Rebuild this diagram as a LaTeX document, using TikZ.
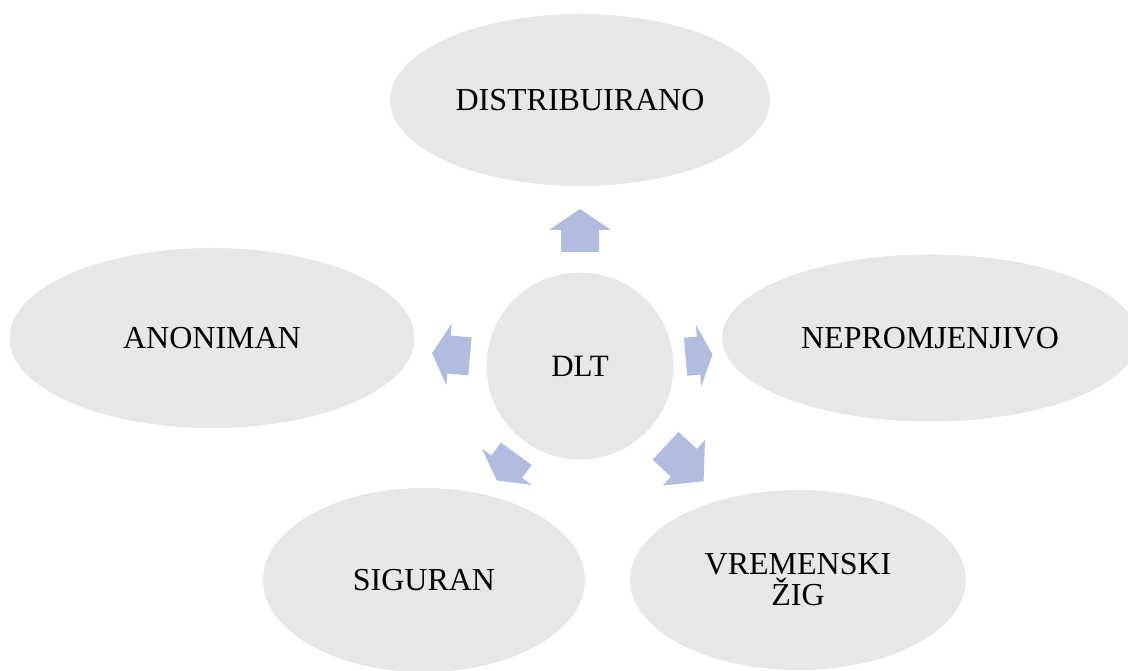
\documentclass[tikz,border=0pt]{standalone}
\usepackage{fontspec}
\setmainfont{Liberation Serif}
\usepackage{tikz}
\usetikzlibrary{shapes.geometric, positioning}
\definecolor{bubblegray}{RGB}{231,231,231}
\definecolor{arrowblue}{RGB}{176,189,224}
\tikzstyle{bubble} = [
    ellipse, fill=bubblegray, draw=none,
    inner sep=0pt, align=center,
    font=\fontsize{32}{31}\selectfont
]
\tikzstyle{hub} = [
    circle, fill=bubblegray, draw=none,
    inner sep=0pt, minimum size=187pt,
    font=\fontsize{31}{31}\selectfont
]
% block arrow around the hub: angle, distance, length, head length
\newcommand{\blockarrow}[4]{
    \begin{scope}[shift={(dlt.center)}, rotate=#1]
        \fill[arrowblue] ({#2-#3/2},-19) -- ({#2+#3/2-#4},-19) -- ({#2+#3/2-#4},-31)
            -- ({#2+#3/2},0) -- ({#2+#3/2-#4},31) -- ({#2+#3/2-#4},19)
            -- ({#2-#3/2},19) -- cycle;
    \end{scope}
}
\begin{document}
\begin{tikzpicture}[x=1pt, y=1pt]
        \useasboundingbox (0,0) rectangle (1128,670);
        \clip (0,0) rectangle (1128,670);

        % Centre
        \node[hub] (dlt) at (580,304) {DLT};

        % Properties around the centre
        \node[bubble, minimum width=380pt, minimum height=172pt] (distr) at (580,570) {DISTRIBUIRANO};
        \node[bubble, minimum width=405pt, minimum height=180pt] (anon) at (212,332) {ANONIMAN};
        \node[bubble, minimum width=416pt, minimum height=167pt] (neprom) at (930,332) {NEPROMJENJIVO};
        \node[bubble, minimum width=322pt, minimum height=184pt] (sig) at (424,90) {SIGURAN};
        \node[bubble, minimum width=336pt, minimum height=180pt] (vrem) at (798,90) {VREMENSKI\\ŽIG};

        % Arrows pointing out of the centre
        \blockarrow{90}{135.5}{43}{21}
        \blockarrow{175}{129.5}{38}{17}
        \blockarrow{5}{119.5}{27}{14}
        \blockarrow{-43}{143}{52}{27}
        \blockarrow{234}{125}{33}{17}

    \end{tikzpicture}
\end{document}
